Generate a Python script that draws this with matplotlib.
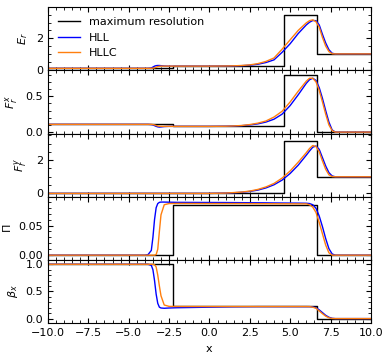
import matplotlib
matplotlib.use("Agg")
import matplotlib.pyplot as plt
from matplotlib.ticker import MultipleLocator, AutoMinorLocator

# ---- data ----
x_max = [-10.0, -2.24, 4.61, 6.68, 10.0]
er_max = [0.08, 0.22, 3.48, 1.0, 1.0]
frx_max = [0.108, 0.08, 0.79, 0.0, 0.0]
fry_max = [0.0, 0.0, 3.18, 1.0, 1.0]
pi_max = [0.0, 0.084, 0.084, 0.0, 0.0]
bx_max = [1.0, 0.225, 0.225, 0.0, 0.0]

xs = [-10, -4.0, -3.8, -3.6, -3.5, -3.4, -3.3, -3.2, -3.1, -3.0, -2.8, -2.5, -2.0,
      0, 1, 1.5, 2, 2.5, 3, 3.5, 4, 4.5, 5, 5.5, 6, 6.2, 6.4, 6.6, 6.8, 7.0,
      7.2, 7.4, 7.6, 7.8, 8.0, 10]

er_hll = [0.08, 0.08, 0.08, 0.10, 0.16, 0.22, 0.25, 0.26, 0.26, 0.25, 0.23, 0.22, 0.22,
          0.22, 0.23, 0.235, 0.25, 0.28, 0.34, 0.45, 0.62, 1.1, 1.65, 2.3, 2.85, 3.02,
          3.13, 3.12, 2.85, 2.25, 1.7, 1.27, 1.04, 1.0, 1.0, 1.0]
er_hllc = [0.08, 0.08, 0.08, 0.08, 0.09, 0.11, 0.15, 0.19, 0.21, 0.22, 0.22, 0.22, 0.22,
           0.22, 0.23, 0.24, 0.26, 0.30, 0.38, 0.52, 0.74, 1.3, 1.9, 2.5, 2.98, 3.12,
           3.17, 3.05, 2.7, 2.05, 1.5, 1.15, 1.01, 1.0, 1.0, 1.0]

frx_hll = [0.108, 0.108, 0.108, 0.105, 0.10, 0.09, 0.08, 0.073, 0.07, 0.072, 0.077, 0.08, 0.08,
           0.08, 0.082, 0.085, 0.09, 0.10, 0.115, 0.14, 0.18, 0.25, 0.37, 0.52, 0.68, 0.73,
           0.75, 0.72, 0.62, 0.47, 0.30, 0.14, 0.03, 0.0, 0.0, 0.0]
frx_hllc = [0.108, 0.108, 0.108, 0.108, 0.106, 0.10, 0.092, 0.085, 0.081, 0.08, 0.08, 0.08, 0.08,
            0.08, 0.082, 0.086, 0.092, 0.105, 0.125, 0.155, 0.21, 0.29, 0.42, 0.57, 0.71, 0.75,
            0.75, 0.70, 0.58, 0.42, 0.25, 0.10, 0.02, 0.0, 0.0, 0.0]

fry_hll = [0.0, 0.0, 0.0, 0.0, 0.0, 0.0, 0.0, 0.0, 0.0, 0.0, 0.0, 0.0, 0.0,
           0.0, 0.02, 0.04, 0.07, 0.12, 0.20, 0.33, 0.52, 0.80, 1.2, 1.7, 2.3, 2.55,
           2.78, 2.85, 2.65, 2.15, 1.65, 1.25, 1.05, 1.0, 1.0, 1.0]
fry_hllc = [0.0, 0.0, 0.0, 0.0, 0.0, 0.0, 0.0, 0.0, 0.0, 0.0, 0.0, 0.0, 0.0,
            0.0, 0.02, 0.05, 0.08, 0.14, 0.24, 0.39, 0.60, 0.92, 1.35, 1.88, 2.45, 2.7,
            2.88, 2.82, 2.5, 1.95, 1.45, 1.12, 1.01, 1.0, 1.0, 1.0]

pi_hll = [0.0, 0.0, 0.001, 0.008, 0.03, 0.06, 0.08, 0.087, 0.089, 0.0895, 0.0895, 0.0893, 0.089,
          0.0888, 0.0887, 0.0886, 0.0885, 0.0884, 0.0883, 0.0882, 0.088, 0.0879, 0.0878, 0.0877,
          0.0875, 0.087, 0.085, 0.079, 0.066, 0.048, 0.028, 0.011, 0.002, 0.0, 0.0, 0.0]
pi_hllc = [0.0, 0.0, 0.0, 0.0, 0.0, 0.0, 0.001, 0.01, 0.04, 0.068, 0.085, 0.087, 0.0872,
           0.087, 0.087, 0.087, 0.087, 0.0869, 0.0868, 0.0868, 0.0867, 0.0866, 0.0866, 0.0865,
           0.0865, 0.085, 0.081, 0.072, 0.055, 0.036, 0.017, 0.004, 0.0, 0.0, 0.0, 0.0]

bx_hll = [1.0, 1.0, 1.0, 0.98, 0.9, 0.7, 0.45, 0.28, 0.21, 0.195, 0.19, 0.195, 0.2,
          0.21, 0.215, 0.217, 0.218, 0.219, 0.22, 0.22, 0.22, 0.22, 0.22, 0.22,
          0.22, 0.22, 0.215, 0.2, 0.16, 0.11, 0.06, 0.025, 0.005, 0.0, 0.0, 0.0]
bx_hllc = [1.0, 1.0, 1.0, 1.0, 1.0, 0.99, 0.95, 0.8, 0.6, 0.42, 0.25, 0.225, 0.223,
           0.222, 0.222, 0.222, 0.222, 0.222, 0.222, 0.222, 0.222, 0.222, 0.222, 0.222,
           0.222, 0.22, 0.21, 0.19, 0.14, 0.09, 0.045, 0.015, 0.002, 0.0, 0.0, 0.0]

labels = [r"$E_r$", r"$F_r^x$", r"$F_r^y$", r"$\Pi$", r"$\beta_x$"]
ylims = [(-0.05, 3.98), (-0.02, 0.86), (-0.2, 3.6), (-0.008, 0.0985), (-0.083, 1.08)]
majors = [2, 0.5, 2, 0.05, 0.5]

panels = [(er_max, er_hll, er_hllc), (frx_max, frx_hll, frx_hllc),
          (fry_max, fry_hll, fry_hllc), (pi_max, pi_hll, pi_hllc),
          (bx_max, bx_hll, bx_hllc)]

plt.rcParams['font.size'] = 8
fig, axes = plt.subplots(5, 1, figsize=(3.9, 3.59), dpi=100, sharex=True)
fig.subplots_adjust(left=0.123, right=0.951, top=0.980, bottom=0.100, hspace=0)

for ax, (ym, yh, yc), lab, yl, mj in zip(axes, panels, labels, ylims, majors):
    ax.plot(x_max, ym, color='k', lw=1.0, drawstyle='steps-post', label='maximum resolution')
    ax.plot(xs, yh, color='blue', lw=1.0, label='HLL')
    ax.plot(xs, yc, color='#ff7f0e', lw=1.0, label='HLLC')
    ax.set_ylabel(lab)
    ax.set_ylim(*yl)
    ax.set_xlim(-10, 10)
    ax.yaxis.set_major_locator(MultipleLocator(mj))
    ax.yaxis.set_minor_locator(AutoMinorLocator())
    ax.xaxis.set_major_locator(MultipleLocator(2.5))
    ax.xaxis.set_minor_locator(MultipleLocator(0.5))
    ax.tick_params(which='both', direction='in', top=True, right=True, labelsize=8)
    ax.tick_params(which='major', length=3.5)
    ax.tick_params(which='minor', length=2)

axes[3].yaxis.set_major_formatter(matplotlib.ticker.FormatStrFormatter('%.2f'))
axes[0].legend(loc='upper left', frameon=False, fontsize=8)
axes[-1].set_xlabel('x')
fig.savefig('out.png', dpi=100)
